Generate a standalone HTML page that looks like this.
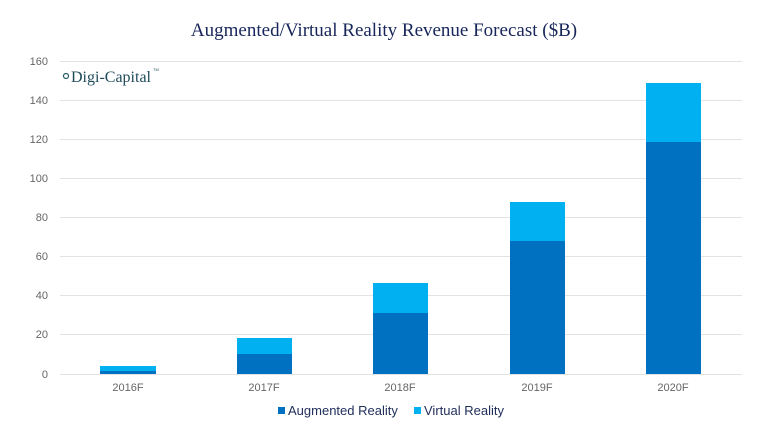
<!DOCTYPE html>
<html><head><meta charset="utf-8"><style>
html,body{margin:0;padding:0;background:#fff;width:769px;height:427px;overflow:hidden}
</style></head><body>
<svg width="769" height="427" xmlns="http://www.w3.org/2000/svg" font-family="Liberation Sans, sans-serif">
<text x="384" y="36" text-anchor="middle" font-family="Liberation Serif, serif" font-size="19" fill="#17265a">Augmented/Virtual Reality Revenue Forecast ($B)</text>
<g stroke="#e3e3e3" stroke-width="1">
<line x1="60" x2="742" y1="61.5" y2="61.5"/><line x1="60" x2="742" y1="100.5" y2="100.5"/>
<line x1="60" x2="742" y1="139.5" y2="139.5"/><line x1="60" x2="742" y1="178.5" y2="178.5"/>
<line x1="60" x2="742" y1="217.5" y2="217.5"/><line x1="60" x2="742" y1="256.5" y2="256.5"/>
<line x1="60" x2="742" y1="295.5" y2="295.5"/><line x1="60" x2="742" y1="334.5" y2="334.5"/>
<line x1="60" x2="742" y1="374.5" y2="374.5"/>
</g>
<g font-size="11" fill="#666" text-anchor="end">
<text x="48" y="65">160</text><text x="48" y="104">140</text><text x="48" y="143">120</text>
<text x="48" y="182">100</text><text x="48" y="221">80</text><text x="48" y="260">60</text>
<text x="48" y="299">40</text><text x="48" y="338">20</text><text x="48" y="378">0</text>
</g>
<circle cx="66" cy="76" r="2.5" fill="none" stroke="#2a5a6a" stroke-width="1.2"/>
<text x="71" y="82" font-family="Liberation Serif, serif" font-size="16" fill="#1f4a5a">Digi-Capital</text>
<text x="153" y="71" font-size="4" fill="#1f4a5a">TM</text>
<g fill="#00b0f0">
<rect x="100" y="366" width="56" height="5"/><rect x="237" y="338" width="55" height="16"/>
<rect x="373" y="283" width="55" height="30"/><rect x="510" y="202" width="55" height="39"/>
<rect x="646" y="83" width="55" height="59"/>
</g>
<g fill="#0070c0">
<rect x="100" y="371" width="56" height="3"/><rect x="237" y="354" width="55" height="20"/>
<rect x="373" y="313" width="55" height="61"/><rect x="510" y="241" width="55" height="133"/>
<rect x="646" y="142" width="55" height="232"/>
</g>
<g font-size="11" fill="#666" text-anchor="middle">
<text x="128" y="391">2016F</text><text x="264" y="391">2017F</text><text x="400" y="391">2018F</text>
<text x="537" y="391">2019F</text><text x="673" y="391">2020F</text>
</g>
<rect x="278" y="407" width="7" height="7" fill="#0070c0"/>
<text x="288" y="415" font-size="13" fill="#1f2d5a">Augmented Reality</text>
<rect x="414" y="407" width="7" height="7" fill="#00b0f0"/>
<text x="424" y="415" font-size="13" fill="#1f2d5a">Virtual Reality</text>
</svg>
</body></html>
